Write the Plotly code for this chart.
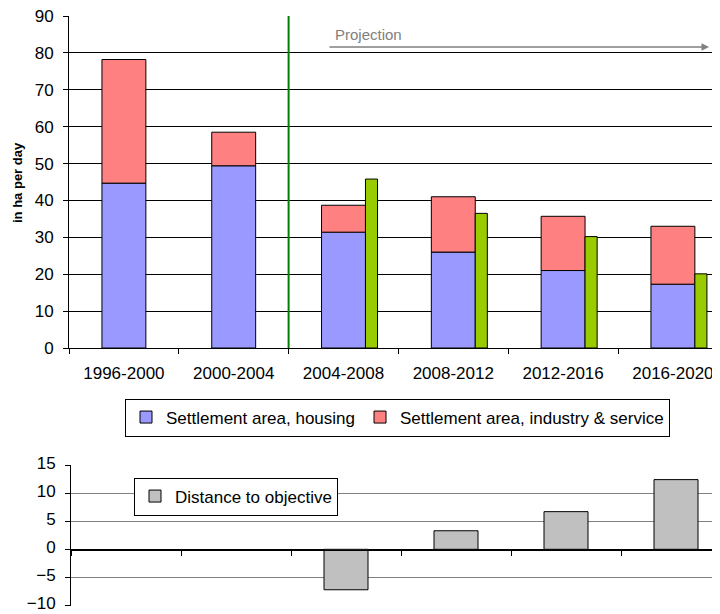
import plotly.graph_objects as go

# ---- data ----
periods = ["1996-2000", "2000-2004", "2004-2008", "2008-2012", "2012-2016", "2016-2020"]
housing = [44.7, 49.4, 31.4, 26.0, 21.0, 17.3]
industry = [33.5, 9.1, 7.3, 15.0, 14.7, 15.7]
objective = [None, None, 45.8, 36.5, 30.2, 20.1]
distance = [None, None, -7.2, 3.3, 6.7, 12.4]
top_ticks = [0, 10, 20, 30, 40, 50, 60, 70, 80, 90]
bottom_ticks = [-10, -5, 0, 5, 10, 15]

FONT = "Liberation Sans, Arial, sans-serif"
OFF = 8            # default page body margin
W, H = 720, 614    # figure size (page window shows W-OFF x H-OFF of it)


def px(x):
    """window pixel x -> paper fraction"""
    return (x - OFF) / W


def py(y):
    """window pixel y -> paper fraction"""
    return (H - (y - OFF)) / H


fig = go.Figure()

fig.add_trace(go.Bar(
    x=periods, y=housing, name="Settlement area, housing",
    offset=-0.2, width=0.4, base=[0] * len(housing),
    marker=dict(color="#9999FF", line=dict(color="#000000", width=1)),
    xaxis="x", yaxis="y", legend="legend",
))
fig.add_trace(go.Bar(
    x=periods, y=industry, name="Settlement area, industry & service",
    offset=-0.2, width=0.4, base=housing,
    marker=dict(color="#FF8080", line=dict(color="#000000", width=1)),
    xaxis="x", yaxis="y", legend="legend",
))
fig.add_trace(go.Bar(
    x=periods, y=objective, name="Objective", showlegend=False,
    offset=0.2, width=0.11,
    marker=dict(color="#99CC00", line=dict(color="#000000", width=1)),
    xaxis="x", yaxis="y",
))
fig.add_trace(go.Bar(
    x=periods, y=distance, name="Distance to objective",
    offset=-0.2, width=0.4,
    marker=dict(color="#C0C0C0", line=dict(color="#000000", width=1)),
    xaxis="x2", yaxis="y2", legend="legend2",
))

fig.update_layout(
    width=W, height=H,
    template="none",
    margin=dict(l=0, r=0, t=0, b=0),
    paper_bgcolor="white", plot_bgcolor="white",
    font=dict(family=FONT, size=17, color="black"),
    barmode="overlay",
    xaxis=dict(
        domain=[px(69), px(720)], range=[-0.5, 5.429], type="category",
        tickson="boundaries", ticks="outside", ticklen=5, tickcolor="black",
        showgrid=False, showline=True, linecolor="black", linewidth=1,
        ticklabelstandoff=10, automargin=False, anchor="y",
        tickfont=dict(size=17),
    ),
    yaxis=dict(
        domain=[py(348), py(16)], range=[0, 90],
        tickvals=top_ticks, ticks="outside", ticklen=5, tickcolor="black",
        showgrid=True, gridcolor="#000000", gridwidth=1,
        showline=True, linecolor="black", linewidth=1, zeroline=False,
        ticklabelstandoff=6, automargin=False, anchor="x",
        ticklabeloverflow="allow", tickfont=dict(size=17),
    ),
    xaxis2=dict(
        domain=[px(71), px(720)], range=[-0.5, 5.4], type="category",
        tickson="boundaries", ticks="outside", ticklen=5, tickcolor="black",
        showticklabels=False, showgrid=False,
        showline=True, linecolor="black", linewidth=1,
        anchor="free", position=py(550), automargin=False,
    ),
    yaxis2=dict(
        domain=[py(605.5), py(465)], range=[-10, 15],
        tickvals=bottom_ticks, ticks="outside", ticklen=5, tickcolor="black",
        showgrid=True, gridcolor="#808080", gridwidth=1,
        zeroline=True, zerolinecolor="black", zerolinewidth=1,
        showline=True, linecolor="black", linewidth=1,
        ticklabelstandoff=6, ticklabelshift=-2, automargin=False, anchor="x2",
        ticklabeloverflow="allow", tickfont=dict(size=17),
    ),
    legend=dict(
        orientation="h", x=px(397.5), xanchor="center",
        y=py(417.5), yanchor="middle",
        bordercolor="black", borderwidth=1, bgcolor="white",
        font=dict(size=17), itemwidth=30, traceorder="normal",
    ),
    legend2=dict(
        orientation="h", x=px(134), xanchor="left",
        y=py(496.5), yanchor="middle",
        bordercolor="black", borderwidth=1, bgcolor="white",
        font=dict(size=17), itemwidth=30,
    ),
    showlegend=True,
)

# vertical green divider between historical data and projection
fig.add_shape(type="line", xref="x", yref="y", x0=1.5, x1=1.5, y0=0, y1=90,
              line=dict(color="#008000", width=2), layer="above")

annotations = [
    dict(text="<b>in ha per day</b>", xref="paper", yref="paper",
         x=px(17), y=py(183), textangle=-90, showarrow=False,
         font=dict(size=13, color="black"), xanchor="center", yanchor="middle"),
    dict(text="Projection", xref="paper", yref="paper",
         x=px(333), y=py(34), showarrow=False, xanchor="left",
         yanchor="middle", font=dict(size=15, color="#808080")),
    dict(text="", xref="paper", yref="paper", x=px(709), y=py(47),
         ax=-(709 - 328), ay=0, axref="pixel", ayref="pixel",
         showarrow=True, arrowhead=2, arrowsize=1, arrowwidth=1.5,
         arrowcolor="#808080"),
]
fig.update_layout(annotations=annotations)

fig.write_html("out.html")
